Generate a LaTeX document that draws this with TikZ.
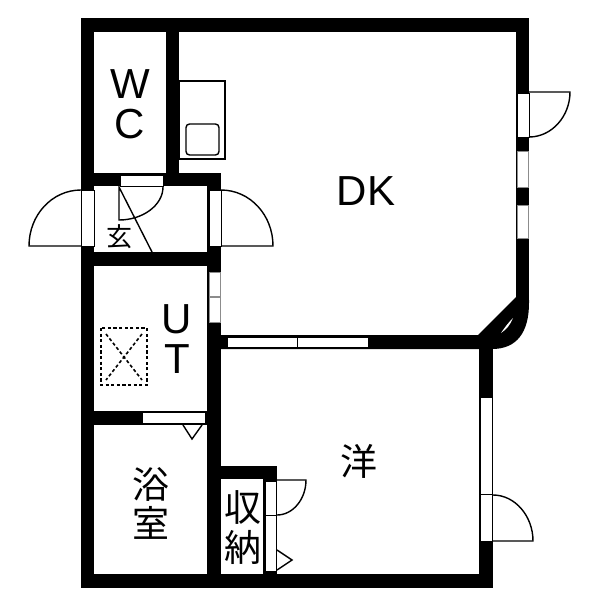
\documentclass[tikz,border=0pt]{standalone}
\usepackage{fontspec}
\setmainfont{Liberation Sans}
\newfontfamily\cjk{Noto Sans CJK JP}
\begin{document}
\begin{tikzpicture}[x=1pt,y=-1pt,
    wall/.style={fill=black,draw=none},
    opening/.style={fill=white,draw=black,line width=1pt},
    pane/.style={fill=white,draw=black!45,line width=0.6pt},
    leaf/.style={draw=black,line width=1.4pt},
    fixture/.style={draw=black,line width=1.4pt},
    vent/.style={draw=black,line width=1.6pt,dash pattern=on 3.2pt off 2.4pt},
    latin/.style={font=\fontsize{42}{42}\selectfont,inner sep=0pt},
    kanji/.style={font=\cjk\fontsize{37}{37}\selectfont,inner sep=0pt}]
    \useasboundingbox (0,0) rectangle (600,600);
    % walls
    \fill[wall] (81,18) rectangle (529,32);
    \fill[wall] (81,18) rectangle (94,588);
    \fill[wall] (81,574) rectangle (493,588);
    \fill[wall] (166,18) rectangle (179,186);
    \fill[wall] (81,173) rectangle (221,186);
    \fill[wall] (81,252) rectangle (221,266);
    \fill[wall] (207,173) rectangle (221,588);
    \fill[wall] (94,411) rectangle (207,425);
    \fill[wall] (221,466) rectangle (277,479);
    \fill[wall] (263,466) rectangle (277,574);
    \fill[wall] (479,349) rectangle (493,588);
    \fill[wall] (516,18) rectangle (529,300);
    \fill[wall] (221,335) -- (478,335) -- (516,297) -- (529,300) -- (529,303)
        .. controls (529,332) and (517,349) .. (492,349) -- (221,349) -- cycle;
    \fill[white] (513,318) .. controls (510,325) and (507,329) .. (501,333)
        .. controls (505,327) and (509,322) .. (513,318) -- cycle;
    % doors and windows in the walls
    \draw[opening] (120,175) rectangle (163,186);
    \draw[opening] (81,190) rectangle (94,246);
    \draw[opening] (209,190) rectangle (221,246);
    \draw[opening] (142,412.5) rectangle (205,423.5);
    \draw[opening] (227,337) rectangle (297,347);
    \draw[opening] (297,337) rectangle (368,347);
    \draw[opening] (480,397) rectangle (492,494);
    \draw[opening] (480,494) rectangle (492,541);
    \draw[opening] (265,481) rectangle (276,515);
    \draw[opening] (265,515) rectangle (276,571);
    \draw[opening] (517,93) rectangle (529,137);
    \foreach \ya/\yb in {272/296,297/322}
        \draw[pane] (209,\ya) rectangle (220,\yb);
    \foreach \ya/\yb in {151/187,205/238}
        \draw[pane] (517,\ya) rectangle (528.5,\yb);
    % door leaves
    \draw[leaf] (81,190) .. controls (52,190) and (29,215) .. (29,246) -- (81,246);
    \draw[leaf] (221,190) .. controls (250,190) and (273,215) .. (273,246) -- (221,246);
    \draw[leaf] (163,187) .. controls (163,205) and (143,220) .. (119,220) -- (119,187) -- (152,252);
    \draw[leaf] (529,92) -- (570,92) .. controls (570,116) and (552,137) .. (529,137);
    \draw[leaf] (493,495) .. controls (515,495) and (533,516) .. (533,541) -- (493,541);
    \draw[leaf] (277,480) -- (306,480) .. controls (306,499) and (293,515) .. (277,515);
    \draw[leaf] (183,425) -- (192,439) -- (202,425);
    \draw[leaf] (277,550) -- (292,560) -- (277,570);
    % kitchen and vent
    \draw[fixture] (179,81) rectangle (225,159);
    \draw[fixture,rounded corners=3.5pt] (186,124) rectangle (219,155);
    \draw[vent] (101,328) rectangle (147,385);
    \draw[vent] (106,334) -- (142,380) (142,334) -- (106,380);
    % labels
    \node[latin] (wlabel) at (130,84) {W};
    \node[latin] (clabel) at (130,124) {C};
    \node[latin] (ulabel) at (177,319) {U};
    \node[latin] (tlabel) at (177,359) {T};
    \node[latin] (dklabel) at (366,191) {DK};
    \node[kanji,font=\cjk\fontsize{26}{26}\selectfont] (genkan) at (119,237) {玄};
    \node[kanji] (yoshitsu) at (359,461) {洋};
    \node[kanji] (yoku) at (151,484) {浴};
    \node[kanji] (shitsu) at (151,523) {室};
    \node[kanji] (shu) at (243,507) {収};
    \node[kanji] (no) at (243,547) {納};
\end{tikzpicture}
\end{document}
